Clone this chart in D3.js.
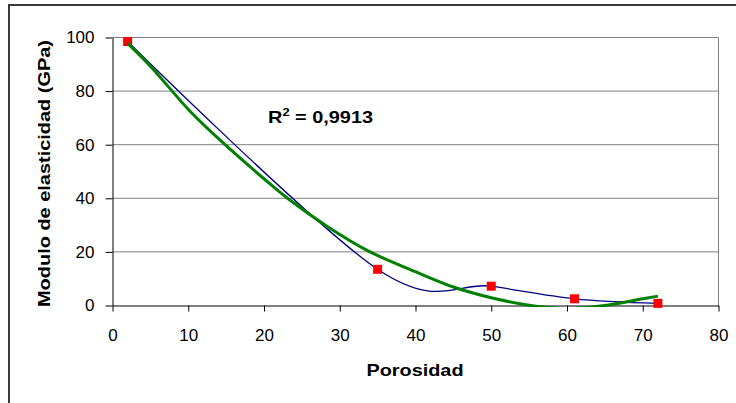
<!DOCTYPE html>
<html>
<head>
<meta charset="utf-8">
<script src="https://cdn.jsdelivr.net/npm/d3@7"></script>
<style>
  html, body { margin: 0; padding: 0; background: #fff; }
  svg { display: block; font-family: "Liberation Sans", Arial, sans-serif; }
</style>
</head>
<body>
<svg id="chart" width="736" height="403"></svg>
<script>
// ---- data ----
const porosity = [2, 35, 50, 61, 72];
const modulus = [98.5, 13.5, 7.2, 2.5, 0.8];
// polynomial trendline
const trendX = [2, 5, 10.3, 14.9, 20, 23.1, 28.3, 33.8, 40, 45, 50, 55, 60, 65, 70, 72];
const trendY = [97.8, 89.3, 72.3, 59.9, 47.3, 40, 29.6, 20.3, 12.6, 6.9, 2.9, 0.1, -1.2, 0.0, 2.5, 3.5];
const xTicks = [0, 10, 20, 30, 40, 50, 60, 70, 80];
const yTicks = [0, 20, 40, 60, 80, 100];
const xTitle = "Porosidad";
const yTitle = "Modulo de elasticidad (GPa)";
const r2Text = "0,9913";

const svg = d3.select("#chart");

// outer chart border
svg.append("rect")
  .attr("x", 9).attr("y", 5).attr("width", 800).attr("height", 500)
  .attr("fill", "#fff").attr("stroke", "#3a3a3a").attr("stroke-width", 2);

const x = d3.scaleLinear().domain([0, 80]).range([112.5, 718.5]);
const y = d3.scaleLinear().domain([0, 100]).range([305.5, 37.5]);

// gridlines
svg.append("g").selectAll("line").data(yTicks.filter(d => d > 0)).join("line")
  .attr("x1", x(0)).attr("x2", x(80))
  .attr("y1", d => y(d)).attr("y2", d => y(d))
  .attr("stroke", "#808080").attr("stroke-width", 1);

// right plot border
svg.append("line")
  .attr("x1", x(80)).attr("x2", x(80)).attr("y1", y(100)).attr("y2", y(0))
  .attr("stroke", "#808080").attr("stroke-width", 1);

// axes
const xAxis = d3.axisBottom(x).tickValues(xTicks).tickSizeInner(6).tickSizeOuter(0).tickPadding(17);
const yAxis = d3.axisLeft(y).tickValues(yTicks).tickSizeInner(7).tickSizeOuter(0).tickPadding(11);

const gx = svg.append("g").attr("transform", `translate(0,${y(0)})`).call(xAxis);
const gy = svg.append("g").attr("transform", `translate(${x(0)},0)`).call(yAxis);
[gx, gy].forEach(g => {
  g.selectAll("path.domain").attr("stroke", "#000");
  g.selectAll(".tick line").attr("stroke", "#000");
  g.selectAll(".tick text").attr("fill", "#000")
    .style("font-size", "17px").style("font-family", "'Liberation Sans', Arial, sans-serif");
});

// clip for plot area
svg.append("clipPath").attr("id", "plotclip").append("rect")
  .attr("x", x(0)).attr("y", y(100) - 2).attr("width", x(80) - x(0)).attr("height", y(0) - y(100) + 3.5);

// series line (smoothed)
const pts = porosity.map((p, i) => [p, modulus[i]]);
svg.append("path")
  .datum(pts)
  .attr("fill", "none")
  .attr("stroke", "#000080")
  .attr("stroke-width", 1.3)
  .attr("d", d3.line().x(d => x(d[0])).y(d => y(d[1])).curve(d3.curveCardinal.tension(0)));

// markers
svg.append("g").selectAll("rect").data(pts).join("rect")
  .attr("x", d => x(d[0]) - 4.5).attr("y", d => y(d[1]) - 4.5)
  .attr("width", 9).attr("height", 9)
  .attr("fill", "#ff0000");

// trendline
const tpts = trendX.map((t, i) => [t, trendY[i]]);
svg.append("path")
  .datum(tpts)
  .attr("clip-path", "url(#plotclip)")
  .attr("fill", "none")
  .attr("stroke", "#008000")
  .attr("stroke-width", 3)
  .attr("stroke-linejoin", "round")
  .attr("d", d3.line().x(d => x(d[0])).y(d => y(d[1])).curve(d3.curveCatmullRom));

// R^2 label
const rg = svg.append("g").attr("transform", "translate(268,123) scale(1.17,1)");
const rt = rg.append("text").attr("font-weight", "bold").attr("font-size", "17px").attr("fill", "#000");
rt.append("tspan").text("R");
rt.append("tspan").attr("font-size", "11px").attr("dy", -7).text("2");
rt.append("tspan").attr("dy", 7).text(" = " + r2Text);

// axis titles
svg.append("text")
  .attr("x", 415).attr("y", 376)
  .attr("text-anchor", "middle")
  .attr("font-weight", "bold").attr("font-size", "17px")
  .attr("textLength", 97).attr("lengthAdjust", "spacingAndGlyphs")
  .text(xTitle);

svg.append("text")
  .attr("transform", "translate(50,173.5) rotate(-90)")
  .attr("text-anchor", "middle")
  .attr("font-weight", "bold").attr("font-size", "17px")
  .attr("textLength", 267).attr("lengthAdjust", "spacingAndGlyphs")
  .text(yTitle);
</script>
</body>
</html>
